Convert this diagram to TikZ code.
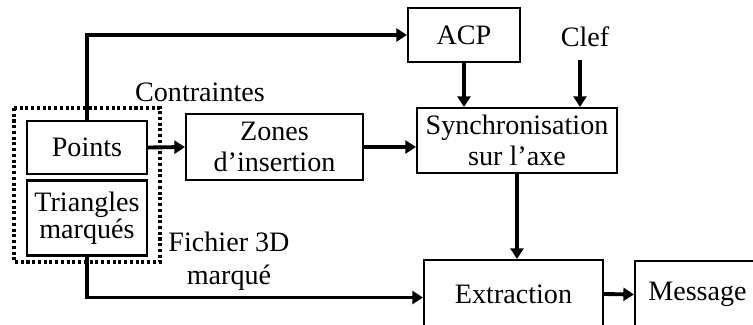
\documentclass[tikz,border=0pt]{standalone}
\usepackage{fontspec}
\setmainfont{Liberation Serif}
\usetikzlibrary{arrows.meta,calc}
\begin{document}
\begin{tikzpicture}[x=0.03cm,y=-0.03cm,
  box/.style={draw, line width=1.8pt, inner sep=0pt, align=center, font=\fontsize{24}{27}\selectfont},
  lbl/.style={inner sep=0pt, align=center, font=\fontsize{24}{28}\selectfont},
  arr/.style={line width=3.3pt, -{Triangle[length=9pt,width=11pt]}},
  dotbox/.style={line width=2.6pt, dash pattern=on 2.6pt off 2.3pt}]
\useasboundingbox (0,0) rectangle (753,324);
\clip (0,0) rectangle (753,324);
% nodes
\node[box, minimum width=3.36cm, minimum height=1.62cm] (acp) at (464,35) {ACP};
\node[lbl] (clef) at (585,37) {Clef};
\coordinate (clefout) at (580,60);
\node[box, minimum width=6.0cm, minimum height=1.95cm, font=\fontsize{24}{27}\selectfont] (sync) at (517,140.5) {Synchronisation\\sur l'axe};
\node[box, minimum width=5.31cm, minimum height=1.98cm, font=\fontsize{24}{26.5}\selectfont] (zones) at (274.5,147) {Zones\\d'insertion};
\node[box, minimum width=3.6cm, minimum height=1.59cm] (points) at (87,147.5) {Points};
\node[box, minimum width=3.6cm, minimum height=2.25cm, font=\fontsize{24}{19}\selectfont] (tri) at (87,218) {Triangles\\marqués};
\node[lbl] (contr) at (200,92) {Contraintes};
\node[lbl] (fich) at (229,261.5) {Fichier 3D\\marqué};
\node[box, minimum width=5.37cm, minimum height=2.04cm] (extr) at (513.5,294) {Extraction};
\node[box, minimum width=3.75cm, minimum height=2.01cm] (msg) at (697.5,294.5) {Message};
\draw[dotbox] (14,108) rectangle (160,262);
% connectors
\draw[arr] (points.north) |- (acp.west);
\draw[arr] (points.east) -- (zones.west);
\draw[arr] (zones.east) -- (zones.east -| sync.west);
\draw[arr] (acp.south) -- (acp.south |- sync.north);
\draw[arr] (clefout) -- (clefout |- sync.north);
\draw[arr] (sync.south) -- (sync.south |- extr.north);
\draw[arr] (tri.south) |- ($(extr.west)+(0,3.5)$);
\draw[arr] (extr.east) -- (msg.west);
\end{tikzpicture}
\end{document}
